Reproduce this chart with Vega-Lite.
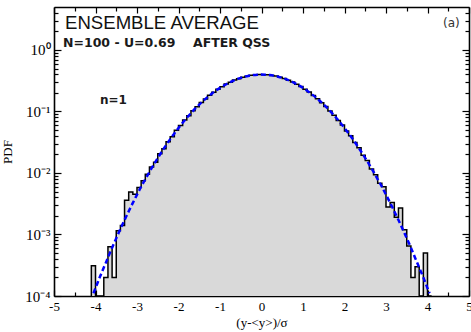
{
  "$schema": "https://vega.github.io/schema/vega-lite/v6.json",
  "width": 415,
  "height": 289,
  "autosize": {"type": "none"},
  "padding": {"left": 54, "top": 7, "right": 2, "bottom": 36},
  "background": "white",
  "config": {
    "view": {"stroke": null},
    "axis": {"grid": false, "domainColor": "black", "tickColor": "black", "labelColor": "black", "titleColor": "black", "domainWidth": 1.6, "tickWidth": 1.2, "labelFlush": false}
  },
  "datasets": {
    "hist": [
      {"i":0,"x":-4.1,"v":0.0001},{"i":1,"x":-4.1,"v":0.00031},{"i":2,"x":-4.0,"v":0.0001},{"i":3,"x":-3.9,"v":0.0001},
      {"i":4,"x":-3.8,"v":0.0002},{"i":5,"x":-3.7,"v":0.00063},{"i":6,"x":-3.6,"v":0.0002},{"i":7,"x":-3.5,"v":0.00115},
      {"i":8,"x":-3.4,"v":0.0014},{"i":9,"x":-3.3,"v":0.0036},{"i":10,"x":-3.2,"v":0.0049},{"i":11,"x":-3.1,"v":0.0045},
      {"i":12,"x":-3.0,"v":0.0058},{"i":13,"x":-2.9,"v":0.0075},{"i":14,"x":-2.8,"v":0.0095},{"i":15,"x":-2.7,"v":0.0125},
      {"i":16,"x":-2.6,"v":0.015},{"i":17,"x":-2.5,"v":0.0205},{"i":18,"x":-2.4,"v":0.0248},{"i":19,"x":-2.3,"v":0.0322},
      {"i":20,"x":-2.2,"v":0.039},{"i":21,"x":-2.1,"v":0.0495},{"i":22,"x":-2.0,"v":0.059},{"i":23,"x":-1.9,"v":0.0728},
      {"i":24,"x":-1.8,"v":0.0855},{"i":25,"x":-1.7,"v":0.103},{"i":26,"x":-1.6,"v":0.1195},{"i":27,"x":-1.5,"v":0.1402},
      {"i":28,"x":-1.4,"v":0.1598},{"i":29,"x":-1.3,"v":0.1832},{"i":30,"x":-1.2,"v":0.205},{"i":31,"x":-1.1,"v":0.2305},
      {"i":32,"x":-1.0,"v":0.2535},{"i":33,"x":-0.9,"v":0.279},{"i":34,"x":-0.8,"v":0.3},{"i":35,"x":-0.7,"v":0.324},
      {"i":36,"x":-0.6,"v":0.342},{"i":37,"x":-0.5,"v":0.3615},{"i":38,"x":-0.4,"v":0.3745},{"i":39,"x":-0.3,"v":0.388},
      {"i":40,"x":-0.2,"v":0.3935},{"i":41,"x":-0.1,"v":0.399},{"i":42,"x":0.0,"v":0.3975},{"i":43,"x":0.1,"v":0.396},
      {"i":44,"x":0.2,"v":0.386},{"i":45,"x":0.3,"v":0.3765},{"i":46,"x":0.4,"v":0.3595},{"i":47,"x":0.5,"v":0.344},
      {"i":48,"x":0.6,"v":0.322},{"i":49,"x":0.7,"v":0.3025},{"i":50,"x":0.8,"v":0.277},{"i":51,"x":0.9,"v":0.255},
      {"i":52,"x":1.0,"v":0.229},{"i":53,"x":1.1,"v":0.207},{"i":54,"x":1.2,"v":0.1815},{"i":55,"x":1.3,"v":0.1615},
      {"i":56,"x":1.4,"v":0.1385},{"i":57,"x":1.5,"v":0.121},{"i":58,"x":1.6,"v":0.1015},{"i":59,"x":1.7,"v":0.087},
      {"i":60,"x":1.8,"v":0.0715},{"i":61,"x":1.9,"v":0.0602},{"i":62,"x":2.0,"v":0.0482},{"i":63,"x":2.1,"v":0.0402},
      {"i":64,"x":2.2,"v":0.0312},{"i":65,"x":2.3,"v":0.0258},{"i":66,"x":2.4,"v":0.0194},{"i":67,"x":2.5,"v":0.016},
      {"i":68,"x":2.6,"v":0.0116},{"i":69,"x":2.7,"v":0.0094},{"i":70,"x":2.8,"v":0.0068},{"i":71,"x":2.9,"v":0.006},
      {"i":72,"x":3.0,"v":0.0028},{"i":73,"x":3.1,"v":0.0033},{"i":74,"x":3.2,"v":0.0019},{"i":75,"x":3.3,"v":0.0027},
      {"i":76,"x":3.4,"v":0.0012},{"i":77,"x":3.5,"v":0.00065},{"i":78,"x":3.6,"v":0.0002},{"i":79,"x":3.7,"v":0.0003},
      {"i":80,"x":3.8,"v":0.0001},{"i":81,"x":3.9,"v":0.0005},{"i":82,"x":4.0,"v":0.0001},{"i":83,"x":4.1,"v":0.0001}
    ],
    "gauss": [
      {"x":-4.05,"p":0.000111},{"x":-4.0,"p":0.000134},{"x":-3.9,"p":0.0002},{"x":-3.8,"p":0.00029},{"x":-3.7,"p":0.00042},
      {"x":-3.6,"p":0.00061},{"x":-3.5,"p":0.00087},{"x":-3.4,"p":0.00123},{"x":-3.3,"p":0.00172},{"x":-3.2,"p":0.00238},
      {"x":-3.1,"p":0.00327},{"x":-3.0,"p":0.00443},{"x":-2.9,"p":0.006},{"x":-2.8,"p":0.0079},{"x":-2.7,"p":0.0104},
      {"x":-2.6,"p":0.0136},{"x":-2.5,"p":0.0175},{"x":-2.4,"p":0.0224},{"x":-2.3,"p":0.0283},{"x":-2.2,"p":0.0355},
      {"x":-2.1,"p":0.044},{"x":-2.0,"p":0.054},{"x":-1.9,"p":0.0656},{"x":-1.8,"p":0.079},{"x":-1.7,"p":0.094},
      {"x":-1.6,"p":0.1109},{"x":-1.5,"p":0.1295},{"x":-1.4,"p":0.1497},{"x":-1.3,"p":0.1714},{"x":-1.2,"p":0.1942},
      {"x":-1.1,"p":0.2179},{"x":-1.0,"p":0.242},{"x":-0.9,"p":0.2661},{"x":-0.8,"p":0.2897},{"x":-0.7,"p":0.3123},
      {"x":-0.6,"p":0.3332},{"x":-0.5,"p":0.3521},{"x":-0.4,"p":0.3683},{"x":-0.3,"p":0.3814},{"x":-0.2,"p":0.391},
      {"x":-0.1,"p":0.397},{"x":0.0,"p":0.3989},{"x":0.1,"p":0.397},{"x":0.2,"p":0.391},{"x":0.3,"p":0.3814},
      {"x":0.4,"p":0.3683},{"x":0.5,"p":0.3521},{"x":0.6,"p":0.3332},{"x":0.7,"p":0.3123},{"x":0.8,"p":0.2897},
      {"x":0.9,"p":0.2661},{"x":1.0,"p":0.242},{"x":1.1,"p":0.2179},{"x":1.2,"p":0.1942},{"x":1.3,"p":0.1714},
      {"x":1.4,"p":0.1497},{"x":1.5,"p":0.1295},{"x":1.6,"p":0.1109},{"x":1.7,"p":0.094},{"x":1.8,"p":0.079},
      {"x":1.9,"p":0.0656},{"x":2.0,"p":0.054},{"x":2.1,"p":0.044},{"x":2.2,"p":0.0355},{"x":2.3,"p":0.0283},
      {"x":2.4,"p":0.0224},{"x":2.5,"p":0.0175},{"x":2.6,"p":0.0136},{"x":2.7,"p":0.0104},{"x":2.8,"p":0.0079},
      {"x":2.9,"p":0.006},{"x":3.0,"p":0.00443},{"x":3.1,"p":0.00327},{"x":3.2,"p":0.00238},{"x":3.3,"p":0.00172},
      {"x":3.4,"p":0.00123},{"x":3.5,"p":0.00087},{"x":3.6,"p":0.00061},{"x":3.7,"p":0.00042},{"x":3.8,"p":0.00029},
      {"x":3.9,"p":0.0002},{"x":4.0,"p":0.000134},{"x":4.05,"p":0.000111}
    ],
    "one": [{}]
  },
  "layer": [
    {
      "data": {"name": "hist"},
      "mark": {"type": "area", "interpolate": "step-after", "color": "#d9d9d9", "clip": true},
      "encoding": {
        "x": {"field": "x", "type": "quantitative", "scale": {"domain": [-5, 5], "nice": false, "zero": false},
              "axis": {"orient": "bottom", "values": [-5,-4,-3,-2,-1,0,1,2,3,4,5], "tickSize": -6, "labelPadding": 10, "labelFont": "Liberation Serif", "labelFontSize": 13, "labelExpr": "'' + datum.value", "title": "(y-<y>)/σ", "titleFont": "Liberation Serif", "titleFontSize": 13, "titleFontWeight": "normal", "titlePadding": 3}},
        "y": {"field": "v", "type": "quantitative", "scale": {"type": "log", "domain": [0.0001, 5], "nice": false},
              "axis": {"orient": "left", "values": [0.0001, 0.001, 0.01, 0.1, 1], "tickSize": -7, "labelPadding": 11, "labelFont": "Liberation Serif", "labelFontSize": 15, "labelExpr": "datum.value >= 0.9 ? '10⁰' : datum.value >= 0.09 ? '10⁻¹' : datum.value >= 0.009 ? '10⁻²' : datum.value >= 0.0009 ? '10⁻³' : '10⁻⁴'", "title": "PDF", "titleFont": "Liberation Serif", "titleFontSize": 13, "titleFontWeight": "normal", "titlePadding": 10}},
        "y2": {"datum": 0.0001}
      }
    },
    {
      "data": {"name": "hist"},
      "mark": {"type": "line", "interpolate": "step-after", "color": "black", "strokeWidth": 1.5, "clip": true},
      "encoding": {
        "x": {"field": "x", "type": "quantitative", "scale": {"domain": [-5, 5], "nice": false, "zero": false},
              "axis": {"orient": "bottom", "values": [-4.5,-3.5,-2.5,-1.5,-0.5,0.5,1.5,2.5,3.5,4.5], "tickSize": -4, "labels": false, "domain": false, "title": null}},
        "y": {"field": "v", "type": "quantitative", "scale": {"type": "log", "domain": [0.0001, 5], "nice": false},
              "axis": {"orient": "left", "values": [0.0002,0.0003,0.0004,0.0005,0.0006,0.0007,0.0008,0.0009,0.002,0.003,0.004,0.005,0.006,0.007,0.008,0.009,0.02,0.03,0.04,0.05,0.06,0.07,0.08,0.09,0.2,0.3,0.4,0.5,0.6,0.7,0.8,0.9,2,3,4], "tickSize": -4, "labels": false, "domain": false, "title": null}},
        "order": {"field": "i"}
      }
    },
    {
      "data": {"name": "gauss"},
      "mark": {"type": "line", "interpolate": "monotone", "color": "#0000ff", "strokeWidth": 2.5, "strokeDash": [5, 3], "clip": true},
      "encoding": {
        "x": {"field": "x", "type": "quantitative", "scale": {"domain": [-5, 5], "nice": false, "zero": false},
              "axis": {"orient": "top", "values": [-5,-4,-3,-2,-1,0,1,2,3,4,5], "tickSize": -6, "labels": false, "title": null}},
        "y": {"field": "p", "type": "quantitative", "scale": {"type": "log", "domain": [0.0001, 5], "nice": false},
              "axis": {"orient": "right", "values": [0.0001, 0.001, 0.01, 0.1, 1], "tickSize": -7, "labels": false, "title": null}}
      }
    },
    {
      "data": {"name": "hist"},
      "mark": {"type": "point", "opacity": 0},
      "encoding": {
        "x": {"field": "x", "type": "quantitative", "scale": {"domain": [-5, 5], "nice": false, "zero": false},
              "axis": {"orient": "top", "values": [-4.5,-3.5,-2.5,-1.5,-0.5,0.5,1.5,2.5,3.5,4.5], "tickSize": -4, "labels": false, "domain": false, "title": null}},
        "y": {"field": "v", "type": "quantitative", "scale": {"type": "log", "domain": [0.0001, 5], "nice": false},
              "axis": {"orient": "right", "values": [0.0002,0.0003,0.0004,0.0005,0.0006,0.0007,0.0008,0.0009,0.002,0.003,0.004,0.005,0.006,0.007,0.008,0.009,0.02,0.03,0.04,0.05,0.06,0.07,0.08,0.09,0.2,0.3,0.4,0.5,0.6,0.7,0.8,0.9,2,3,4], "tickSize": -4, "labels": false, "domain": false, "title": null}}
      }
    },
    {
      "data": {"name": "one"},
      "mark": {"type": "text", "text": "ENSEMBLE AVERAGE", "font": "Liberation Sans", "fontSize": 18.6, "align": "left", "baseline": "alphabetic", "color": "#111"},
      "encoding": {
        "x": {"datum": -4.735, "type": "quantitative", "scale": {"domain": [-5, 5], "nice": false, "zero": false}, "axis": null},
        "y": {"datum": 2.2, "type": "quantitative", "scale": {"type": "log", "domain": [0.0001, 5], "nice": false}, "axis": null}
      }
    },
    {
      "data": {"name": "one"},
      "mark": {"type": "text", "text": "N=100 - U=0.69", "font": "DejaVu Sans", "fontWeight": "bold", "fontSize": 12.5, "align": "left", "baseline": "alphabetic", "color": "#1a1a1a"},
      "encoding": {
        "x": {"datum": -4.783, "type": "quantitative", "scale": {"domain": [-5, 5], "nice": false, "zero": false}, "axis": null},
        "y": {"datum": 1.1, "type": "quantitative", "scale": {"type": "log", "domain": [0.0001, 5], "nice": false}, "axis": null}
      }
    },
    {
      "data": {"name": "one"},
      "mark": {"type": "text", "text": "AFTER QSS", "font": "DejaVu Sans", "fontWeight": "bold", "fontSize": 12.5, "align": "left", "baseline": "alphabetic", "color": "#1a1a1a"},
      "encoding": {
        "x": {"datum": -1.651, "type": "quantitative", "scale": {"domain": [-5, 5], "nice": false, "zero": false}, "axis": null},
        "y": {"datum": 1.1, "type": "quantitative", "scale": {"type": "log", "domain": [0.0001, 5], "nice": false}, "axis": null}
      }
    },
    {
      "data": {"name": "one"},
      "mark": {"type": "text", "text": "n=1", "font": "DejaVu Sans", "fontWeight": "bold", "fontSize": 12, "align": "left", "baseline": "alphabetic", "color": "#1a1a1a"},
      "encoding": {
        "x": {"datum": -3.892, "type": "quantitative", "scale": {"domain": [-5, 5], "nice": false, "zero": false}, "axis": null},
        "y": {"datum": 0.131, "type": "quantitative", "scale": {"type": "log", "domain": [0.0001, 5], "nice": false}, "axis": null}
      }
    },
    {
      "data": {"name": "one"},
      "mark": {"type": "text", "text": "(a)", "font": "DejaVu Sans", "fontSize": 12, "align": "left", "baseline": "alphabetic", "color": "#333"},
      "encoding": {
        "x": {"datum": 4.373, "type": "quantitative", "scale": {"domain": [-5, 5], "nice": false, "zero": false}, "axis": null},
        "y": {"datum": 2.37, "type": "quantitative", "scale": {"type": "log", "domain": [0.0001, 5], "nice": false}, "axis": null}
      }
    }
  ],
  "resolve": {"axis": {"x": "independent", "y": "independent"}}
}
